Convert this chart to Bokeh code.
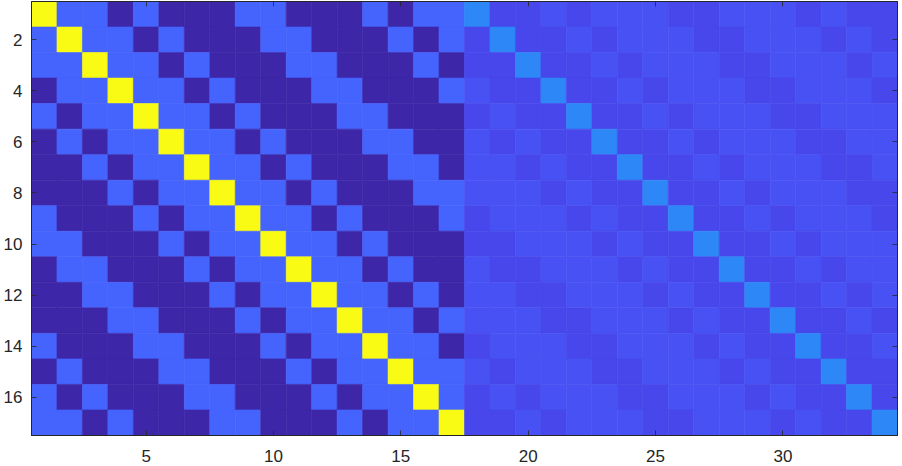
from bokeh.plotting import figure
from bokeh.models import (ColumnDataSource, LinearColorMapper, Range1d, FixedTicker, LinearAxis,
                          CustomJSTickFormatter)
from bokeh.embed import file_html
from bokeh.resources import INLINE

# ---- data ----
# left block (columns 1-17): Y = brightest (diagonal), L = light blue, D = darkest
left_rows = [
    "YLLDLDDDLLDDDLDLL",
    "LYLLDLDDDLLDDDLDL",
    "LLYLLDLDDDLLDDDLD",
    "DLLYLLDLDDDLLDDDL",
    "LDLLYLLDLDDDLLDDD",
    "DLDLLYLLDLDDDLLDD",
    "DDLDLLYLLDLDDDLLD",
    "DDDLDLLYLLDLDDDLL",
    "LDDDLDLLYLLDLDDDL",
    "LLDDDLDLLYLLDLDDD",
    "DLLDDDLDLLYLLDLDD",
    "DDLLDDDLDLLYLLDLD",
    "DDDLLDDDLDLLYLLDL",
    "LDDDLLDDDLDLLYLLD",
    "DLDDDLLDDDLDLLYLL",
    "LDLDDDLLDDDLDLLYL",
    "LLDLDDDLLDDDLDLLY",
]
# right block (columns 18-34): C = diagonal, A = darker, B = lighter
right_rows = [
    "CAABABBBAABBBABAA",
    "ACAABABBBAABBBABA",
    "AACAABABBBAABBBAB",
    "BAACAABABBBAABBBA",
    "ABAACAABABBBAABBB",
    "BABAACAABABBBAABB",
    "BBABAACAABABBBAAB",
    "BBBABAACAABABBBAA",
    "ABBBABAACAABABBBA",
    "AABBBABAACAABABBB",
    "BAABBBABAACAABABB",
    "BBAABBBABAACAABAB",
    "BBBAABBBABAACAABA",
    "ABBBAABBBABAACAAB",
    "BABBBAABBBABAACAA",
    "ABABBBAABBBABAACA",
    "AABABBBAABBBABAAC",
]
level_values = {"Y": 1.0, "L": 0.195, "D": 0.0, "C": 0.289, "A": 0.117, "B": 0.148}
x_ticks = [5, 10, 15, 20, 25, 30]
y_ticks = [2, 4, 6, 8, 10, 12, 14, 16]

# MATLAB parula colormap (64 entries)
parula = [
    (0.2422, 0.1504, 0.6603), (0.2504, 0.1650, 0.7076), (0.2578, 0.1818, 0.7511), (0.2647, 0.1978, 0.7952),
    (0.2706, 0.2147, 0.8364), (0.2751, 0.2342, 0.8710), (0.2783, 0.2559, 0.8991), (0.2803, 0.2782, 0.9221),
    (0.2813, 0.3006, 0.9414), (0.2810, 0.3228, 0.9579), (0.2795, 0.3447, 0.9717), (0.2760, 0.3667, 0.9829),
    (0.2699, 0.3892, 0.9906), (0.2602, 0.4123, 0.9952), (0.2440, 0.4358, 0.9988), (0.2206, 0.4603, 0.9973),
    (0.1963, 0.4847, 0.9892), (0.1834, 0.5074, 0.9798), (0.1786, 0.5289, 0.9682), (0.1764, 0.5499, 0.9520),
    (0.1687, 0.5703, 0.9359), (0.1540, 0.5902, 0.9218), (0.1460, 0.6091, 0.9079), (0.1380, 0.6276, 0.8973),
    (0.1248, 0.6459, 0.8883), (0.1113, 0.6635, 0.8763), (0.0952, 0.6798, 0.8598), (0.0689, 0.6948, 0.8394),
    (0.0297, 0.7082, 0.8163), (0.0036, 0.7203, 0.7917), (0.0067, 0.7312, 0.7660), (0.0433, 0.7411, 0.7394),
    (0.0964, 0.7500, 0.7120), (0.1408, 0.7584, 0.6842), (0.1717, 0.7670, 0.6554), (0.1938, 0.7758, 0.6251),
    (0.2161, 0.7843, 0.5923), (0.2470, 0.7918, 0.5567), (0.2906, 0.7973, 0.5188), (0.3406, 0.8008, 0.4789),
    (0.3909, 0.8029, 0.4354), (0.4456, 0.8024, 0.3909), (0.5044, 0.7993, 0.3480), (0.5616, 0.7942, 0.3045),
    (0.6174, 0.7876, 0.2612), (0.6720, 0.7793, 0.2227), (0.7242, 0.7698, 0.1910), (0.7738, 0.7598, 0.1646),
    (0.8203, 0.7498, 0.1535), (0.8634, 0.7406, 0.1596), (0.9035, 0.7330, 0.1774), (0.9393, 0.7288, 0.2100),
    (0.9728, 0.7298, 0.2394), (0.9956, 0.7434, 0.2371), (0.9970, 0.7659, 0.2199), (0.9952, 0.7893, 0.2028),
    (0.9892, 0.8136, 0.1885), (0.9786, 0.8386, 0.1766), (0.9676, 0.8639, 0.1643), (0.9610, 0.8890, 0.1537),
    (0.9597, 0.9135, 0.1423), (0.9628, 0.9373, 0.1265), (0.9691, 0.9606, 0.1064), (0.9769, 0.9839, 0.0805),
]
palette = ["#%02x%02x%02x" % tuple(int(round(c * 255)) for c in rgb) for rgb in parula]

xs, ys, vals = [], [], []
for r, (lrow, rrow) in enumerate(zip(left_rows, right_rows)):
    for c, ch in enumerate(lrow + rrow):
        xs.append(c + 1)
        ys.append(r + 1)
        vals.append(level_values[ch])
src = ColumnDataSource(dict(x=xs, y=ys, v=vals))

mapper = LinearColorMapper(palette=palette, low=0.0, high=1.0)

p = figure(width=900, height=466, output_backend="svg", toolbar_location=None,
           x_range=Range1d(0.5, 34.5), y_range=Range1d(17.5, 0.5),
           min_border_left=31, min_border_right=3, min_border_top=1, min_border_bottom=31,
           x_axis_location=None, y_axis_location=None)
p.rect(x="x", y="y", width=1, height=1, source=src,
       fill_color={"field": "v", "transform": mapper},
       line_color={"field": "v", "transform": mapper}, line_width=0.6)

p.xgrid.visible = False
p.ygrid.visible = False
p.outline_line_color = "#262626"
p.outline_line_width = 1
p.background_fill_color = "white"

font = "Liberation Sans"
col = "#262626"

def style_axis(ax, labels=True, standoff=9):
    ax.major_tick_in = 5
    ax.major_tick_out = 0
    ax.minor_tick_line_color = None
    ax.major_tick_line_color = col
    ax.major_tick_line_width = 0.8
    ax.axis_line_color = col
    ax.axis_line_width = 1
    ax.major_label_text_font = font
    ax.major_label_text_color = col
    ax.major_label_text_font_size = "17px"
    if labels:
        ax.major_label_standoff = standoff
    else:
        ax.formatter = CustomJSTickFormatter(code="return '';")
        ax.major_label_standoff = 0

xb = LinearAxis(ticker=FixedTicker(ticks=x_ticks)); style_axis(xb, True, 14)
xt = LinearAxis(ticker=FixedTicker(ticks=x_ticks)); style_axis(xt, False)
yl = LinearAxis(ticker=FixedTicker(ticks=y_ticks)); style_axis(yl, True, 9)
yr = LinearAxis(ticker=FixedTicker(ticks=y_ticks)); style_axis(yr, False)
p.add_layout(xb, "below")
p.add_layout(xt, "above")
p.add_layout(yl, "left")
p.add_layout(yr, "right")

open("out.html", "w").write(file_html(p, INLINE))
